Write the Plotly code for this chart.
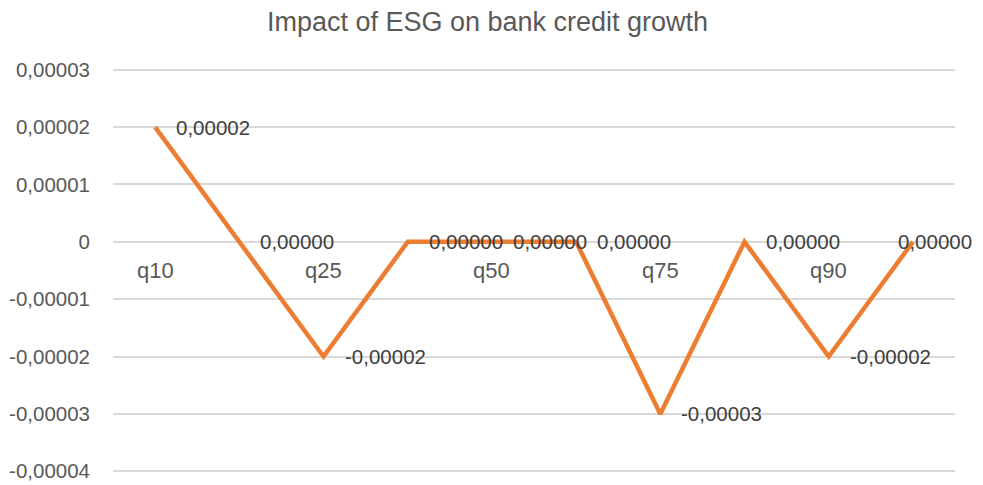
import plotly.graph_objects as go

categories = ["q10", "", "q25", "", "q50", "", "q75", "", "q90", ""]
values = [0.00002, 0.0, -0.00002, 0.0, 0.0, 0.0, -0.00003, 0.0, -0.00002, 0.0]
value_labels = ["0,00002", "0,00000", "-0,00002", "0,00000", "0,00000", "0,00000",
                "-0,00003", "0,00000", "-0,00002", "0,00000"]
y_tickvals = [0.00003, 0.00002, 0.00001, 0.0, -0.00001, -0.00002, -0.00003, -0.00004]
y_ticktext = ["0,00003", "0,00002", "0,00001", "0", "-0,00001", "-0,00002", "-0,00003", "-0,00004"]

xs = list(range(len(values)))
font_family = "Liberation Sans, Arial, sans-serif"

# the page body adds an 8px margin, so the figure is sized to compensate
W, H = 975, 477

fig = go.Figure()
fig.add_trace(go.Scatter(
    x=xs, y=values, mode="lines",
    line=dict(color="#ED7D31", width=4.5),
    hoverinfo="skip", showlegend=False,
))

annotations = []
for i, (xv, yv, t) in enumerate(zip(xs, values, value_labels)):
    last = i == len(values) - 1
    annotations.append(dict(
        x=xv, y=yv, xref="x", yref="y", text=t, showarrow=False,
        xanchor="left", yanchor="middle", xshift=-17 if last else 19,
        font=dict(family=font_family, size=20.5, color="#404040"),
    ))
for xv, c in zip(xs, categories):
    if c:
        annotations.append(dict(
            x=xv, y=0, xref="x", yref="y", text=c, showarrow=False,
            xanchor="center", yanchor="middle", yshift=-29,
            font=dict(family=font_family, size=22, color="#595959"),
        ))

fig.update_layout(
    width=W, height=H,
    margin=dict(l=105, r=28, t=60, b=12, autoexpand=False),
    paper_bgcolor="white", plot_bgcolor="white",
    title=dict(text="Impact of ESG on bank credit growth", x=479.5 / W, xanchor="center",
               y=1 - 14 / H, yanchor="middle", yref="container",
               font=dict(family=font_family, size=27, color="#595959")),
    xaxis=dict(range=[-0.5, 9.5], showgrid=False, zeroline=False, showticklabels=False,
               showline=False, fixedrange=True, automargin=False),
    yaxis=dict(range=[-0.0000403, 0.0000303], tickvals=y_tickvals, ticktext=y_ticktext,
               showgrid=True, gridcolor="#D9D9D9", gridwidth=1.5, zeroline=False,
               showline=False, ticks="", ticklabelstandoff=22, automargin=False,
               tickfont=dict(family=font_family, size=20.5, color="#595959")),
    annotations=annotations,
)
fig.write_html("out.html")
